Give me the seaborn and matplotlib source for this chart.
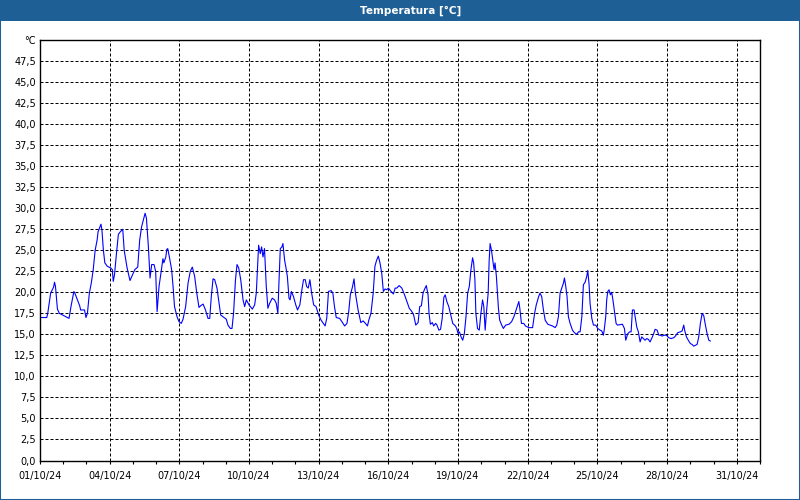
import numpy as np
import pandas as pd
import matplotlib
matplotlib.use("Agg")
import matplotlib.pyplot as plt
import matplotlib.dates as mdates
from matplotlib.patches import Rectangle
import seaborn as sns

# hours since 01/10/24 00:00 and the temperature read at that moment
hours = [0, 7, 8, 11, 14, 15, 16, 18, 20, 25,
         30, 32, 35, 36, 41, 42, 46, 47.5, 49, 51,
         53, 55, 57, 59, 60, 63, 64, 65.5, 67, 69.5,
         73, 74.7, 75.7, 77, 79, 81, 83, 85.5, 87, 90,
         93, 96, 98, 101, 103, 105, 108.6, 110, 112, 113.7,
         115.4, 117.8, 119.5, 121, 123, 125.5, 127, 128, 130, 131,
         132, 134, 136, 137.5, 139, 141.6, 143.7, 146, 147.8, 150.5,
         153, 155.3, 157.4, 159.8, 162, 164.3, 166, 168.5, 171, 173.6,
         175.4, 177, 178.8, 180.5, 182.9, 185, 186.7, 189, 192.5, 194.2,
         196.7, 198.4, 200, 202, 203.6, 205.3, 207.4, 209.8, 211.5, 213.2,
         216, 219.4, 221.8, 223.5, 225.9, 227.6, 229, 230.4, 232, 233.8,
         235.5, 237.3, 240, 242.4, 244.1, 245.8, 246.9, 248.3, 250, 251,
         252.8, 254.5, 255.6, 257.3, 258.4, 259.8, 261.9, 264.3, 266.1, 268.5,
         270.6, 272.3, 274.1, 275.5, 277.2, 278.9, 280.7, 282.8, 285.2, 288,
         290.4, 292.2, 294.6, 296.3, 298.1, 300.9, 302.6, 304.3, 306.1, 309.6,
         312, 314.8, 317.2, 319, 320.7, 322.8, 324.5, 325.9, 328.7, 331.5,
         333.9, 336.3, 338.4, 339.8, 342, 344.3, 346.1, 347.8, 349.6, 351.3,
         353.1, 354.8, 356.6, 358.3, 360, 362.8, 365.2, 367, 368.7, 371.1,
         373.9, 376.7, 379.1, 381.6, 384.3, 386.1, 388.3, 390.7, 392.4, 394.1,
         395.8, 397.5, 399.2, 401, 402, 403.4, 405.4, 406.8, 408.8, 410.2,
         412.2, 413.9, 415.6, 417.3, 418.7, 420.4, 422.4, 424.8, 426.5, 429.3,
         430.6, 432, 433.4, 435.1, 436.8, 438.5, 440.2, 441.9, 443.6, 445.3,
         447, 448.1, 449.4, 450.4, 452.1, 453.9, 455.6, 457.3, 458.6, 460,
         461.4, 463.1, 464.1, 465.1, 466.5, 468.2, 469.2, 470.2, 471.6, 472.6,
         473.7, 475, 477.1, 478.8, 481.2, 484.6, 487.3, 489.7, 491.4, 493.1,
         494.8, 495.8, 497.5, 499.9, 501.6, 505, 509, 511.1, 512.8, 515.3,
         516.7, 518.4, 520.2, 522, 524.7, 527.1, 529.5, 532.3, 534, 535.7,
         537.4, 539.1, 540.9, 541.9, 543.3, 544.6, 546, 547.8, 550.2, 552.2,
         554.7, 556.4, 558.1, 559.9, 561.5, 563.3, 565, 566, 567.4, 568.4,
         570.2, 571.9, 574.3, 576.3, 578.8, 580.5, 582.2, 583.2, 584.6, 585.6,
         586.7, 588, 589.4, 590.8, 592.5, 594.3, 595.3, 596.7, 601.8, 603.9,
         605.3, 607.4, 609.4, 610.8, 612.2, 613.9, 615, 616.6, 618.3, 620.1,
         621.8, 623.5, 625.2, 627, 628.7, 630.4, 632.8, 634.2, 635.6, 637.7,
         639.4, 641.1, 642.8, 645.3, 647.3, 649.7, 652.1, 654.9, 656.6, 659,
         661.8, 663.5, 665.2, 666.3, 668, 670.4, 672.1, 673.8, 675.5, 677.3,
         679, 680.7, 682.4, 684.2, 685.9, 687.6, 689.3, 691.1, 692.8]

temps = [17.0, 17.0, 17.5, 19.9, 20.6, 21.2, 20.7, 18.0, 17.5, 17.2,
         16.9, 18.3, 20.1, 19.9, 18.4, 17.9, 17.9, 17.0, 17.5, 19.9,
         21.1, 22.7, 25.0, 26.2, 27.2, 28.1, 27.4, 25.0, 23.5, 23.1,
         22.9, 22.7, 21.3, 22.1, 24.6, 26.9, 27.2, 27.5, 25.0, 22.9,
         21.4, 22.2, 22.7, 23.0, 26.2, 27.8, 29.4, 28.8, 25.4, 21.7,
         23.3, 23.3, 22.5, 17.7, 20.7, 22.7, 24.0, 23.5, 24.2, 25.1,
         25.2, 24.0, 22.7, 20.7, 18.3, 17.1, 16.5, 16.3, 16.8, 18.3,
         21.1, 22.5, 23.0, 21.9, 19.9, 18.2, 18.4, 18.6, 17.9, 16.9,
         16.9, 19.5, 21.6, 21.5, 20.5, 18.7, 17.3, 17.1, 16.8, 16.1,
         15.7, 15.7, 17.5, 21.5, 23.3, 22.9, 21.5, 19.1, 18.3, 19.1,
         18.5, 18.0, 18.5, 19.9, 25.6, 24.6, 25.4, 24.2, 25.2, 20.7,
         18.1, 18.7, 19.3, 19.1, 18.7, 17.5, 21.1, 25.2, 25.4, 25.8,
         23.8, 22.7, 21.9, 19.3, 19.1, 20.1, 19.5, 18.5, 17.9, 18.5,
         20.3, 21.5, 21.5, 20.7, 20.5, 21.5, 19.9, 18.5, 18.3, 17.3,
         16.7, 16.4, 16.0, 16.9, 20.1, 20.2, 19.9, 18.3, 17.0, 16.9,
         16.5, 16.0, 16.3, 17.7, 19.7, 20.6, 21.6, 19.9, 17.9, 16.4,
         16.6, 16.3, 16.0, 16.7, 17.5, 19.9, 23.1, 23.8, 24.3, 23.5,
         22.3, 20.1, 20.4, 20.3, 20.5, 20.1, 19.8, 20.5, 20.5, 20.8,
         20.5, 19.7, 18.9, 18.1, 17.7, 17.3, 16.1, 16.4, 18.3, 18.4,
         19.9, 20.4, 20.8, 19.7, 17.5, 16.2, 16.4, 16.0, 16.3, 16.1,
         15.5, 15.6, 16.9, 19.4, 19.7, 18.9, 18.3, 17.1, 16.3, 16.0,
         15.7, 15.1, 15.3, 14.7, 14.3, 15.1, 17.1, 19.9, 20.7, 22.7,
         24.1, 23.5, 21.5, 17.5, 15.7, 15.5, 17.5, 19.1, 18.3, 15.5,
         17.7, 19.9, 23.7, 25.8, 25.0, 23.5, 22.7, 23.5, 21.9, 20.1,
         18.1, 16.7, 16.1, 15.7, 16.1, 16.2, 16.5, 17.1, 17.7, 18.3,
         18.9, 18.1, 16.3, 16.3, 16.0, 15.8, 15.8, 17.5, 18.5, 19.5,
         19.9, 19.5, 17.9, 16.7, 16.2, 16.1, 16.0, 15.8, 16.1, 17.1,
         19.9, 20.5, 21.1, 21.7, 20.7, 19.5, 17.1, 16.3, 15.5, 15.2,
         15.0, 15.3, 15.3, 17.1, 20.9, 21.2, 21.9, 22.6, 20.9, 18.7,
         16.9, 16.1, 16.1, 15.7, 15.5, 15.4, 14.9, 15.7, 17.1, 19.1,
         20.1, 20.3, 19.7, 20.0, 18.7, 17.1, 16.3, 16.1, 16.2, 15.7,
         14.3, 15.1, 15.3, 15.3, 17.9, 17.9, 17.1, 15.9, 15.3, 14.1,
         14.7, 14.5, 14.3, 14.5, 14.4, 14.1, 14.7, 15.1, 15.6, 15.5,
         14.9, 14.9, 14.8, 14.9, 14.9, 14.6, 14.5, 14.6, 14.8, 15.2,
         15.3, 15.4, 16.1, 15.4, 14.7, 14.2, 13.9, 13.8, 13.6, 13.7,
         13.8, 14.7, 16.3, 17.5, 17.2, 16.1, 15.1, 14.3, 14.2]

start = pd.Timestamp("2024-10-01")
end = pd.Timestamp("2024-11-01")
df = pd.DataFrame({"time": start + pd.to_timedelta(hours, unit="h"), "temp": temps})

date_ticks = pd.date_range("2024-10-01", "2024-10-31", freq="3D")
y_ticks = np.arange(0, 50.1, 2.5)
y_labels = [f"{v:.1f}".replace(".", ",") for v in y_ticks[:-1]] + ["°C"]

sns.set_style("white")
plt.rcParams["font.family"] = ["DejaVu Sans"]

bar_color = "#1e6096"

fig = plt.figure(figsize=(8, 5), dpi=100)
fig.patch.set_facecolor("white")

# title bar + thin window frame
fig.add_artist(Rectangle((0, 0.9586), 1, 0.0414, transform=fig.transFigure,
                         facecolor=bar_color, edgecolor="none", zorder=0))
fig.add_artist(Rectangle((0, 0), 1, 1, transform=fig.transFigure, fill=False,
                         edgecolor=bar_color, linewidth=1.5, zorder=5))
fig.text(0.513, 0.979, "Temperatura [°C]", color="white", fontweight="bold",
         fontsize=7.5, ha="center", va="center")

ax = fig.add_axes([0.05, 0.079, 0.9, 0.841])
sns.lineplot(data=df, x="time", y="temp", ax=ax, color="#0000ff", linewidth=0.8)

ax.set_xlim(start, end)
ax.set_ylim(0, 50)
ax.set_xticks(date_ticks)
ax.xaxis.set_major_formatter(mdates.DateFormatter("%d/%m/%y"))
ax.xaxis.set_minor_locator(mdates.DayLocator())
ax.set_yticks(y_ticks)
ax.set_yticklabels(y_labels)

ax.grid(True, which="major", color="black", linestyle=(0, (3, 2)), linewidth=0.72)
ax.tick_params(axis="x", which="both", bottom=True, direction="out", length=2.5,
               width=0.8, color="black", pad=5, labelsize=7, labelcolor="black")
ax.tick_params(axis="y", left=False, length=0, pad=3, labelsize=7, labelcolor="black")
for s in ax.spines.values():
    s.set_color("black")
    s.set_linewidth(1)
ax.set_xlabel("")
ax.set_ylabel("")

fig.savefig("out.png", dpi=100)
